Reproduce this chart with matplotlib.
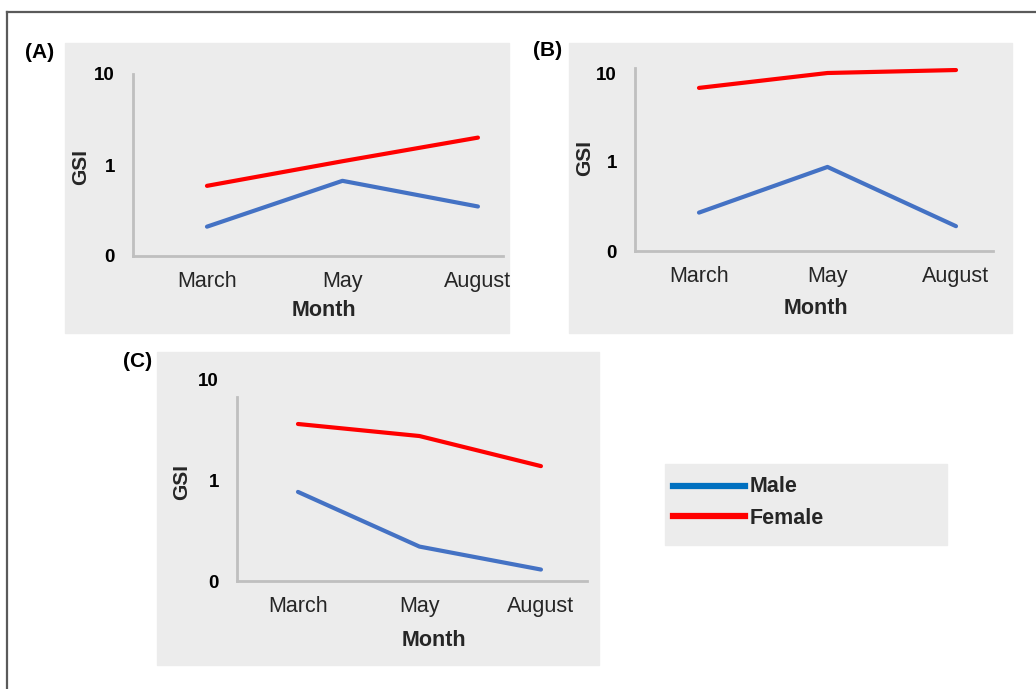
import numpy as np
import matplotlib
matplotlib.use("Agg")
import matplotlib.pyplot as plt
from matplotlib.patches import Rectangle
from matplotlib.lines import Line2D

plt.rcParams['font.family'] = ['Liberation Sans', 'DejaVu Sans']

months = ['March', 'May', 'August']
male_a = [0.21, 0.67, 0.35]
female_a = [0.59, 1.1, 2.0]
male_b = [0.27, 0.88, 0.19]
female_b = [6.8, 10.0, 10.8]
male_c = [0.77, 0.22, 0.13]
female_c = [3.65, 2.77, 1.39]
ytick_vals = [0.1, 1, 10]
ytick_labels = ['0', '1', '10']

W, H = 1036, 689
BG = '#ececec'
MALE_C = '#4472c4'
FEMALE_C = '#ff0000'

fig = plt.figure(figsize=(W / 100, H / 100), dpi=100)


def fx(x):
    return x / W


def fy(y):
    return 1 - y / H


# outer frame (top and left edges)
fig.add_artist(Line2D([fx(7), 1], [fy(12), fy(12)], color='#5a5a5a', lw=1.6))
fig.add_artist(Line2D([fx(7), fx(7)], [fy(12), 0], color='#5a5a5a', lw=1.6))


def bg(x0, y0, x1, y1):
    fig.add_artist(Rectangle((fx(x0), fy(y1)), fx(x1) - fx(x0), fy(y0) - fy(y1),
                             transform=fig.transFigure, color=BG, zorder=0))


def panel(box, xlim, ylim, spine_top, male, female, letter, gsi, month):
    left, top, right, bottom = box
    ax = fig.add_axes([fx(left), fy(bottom), fx(right) - fx(left), fy(top) - fy(bottom)])
    ax.set_facecolor('none')
    x = np.arange(len(months))
    ax.plot(x, male, color=MALE_C, lw=3, solid_capstyle='round')
    ax.plot(x, female, color=FEMALE_C, lw=3, solid_capstyle='round')
    ax.set_yscale('log')
    ax.set_ylim(*ylim)
    ax.set_xlim(*xlim)
    ax.set_yticks(ytick_vals)
    ax.set_yticklabels(ytick_labels, fontsize=13.5, fontweight='bold')
    ax.yaxis.set_minor_locator(matplotlib.ticker.NullLocator())
    ax.set_xticks(x)
    ax.set_xticklabels(months, fontsize=15.5, color='#262626')
    ax.tick_params(axis='x', length=0, pad=11)
    ax.tick_params(axis='y', length=0, pad=13)
    for s in ['top', 'right']:
        ax.spines[s].set_visible(False)
    for s in ['left', 'bottom']:
        ax.spines[s].set_color('#bfbfbf')
        ax.spines[s].set_linewidth(2)
    ax.spines['left'].set_bounds(ylim[0], spine_top)
    fig.text(fx(letter[0]), fy(letter[1]), letter[2], fontsize=15, fontweight='bold',
             ha='center', va='center')
    fig.text(fx(gsi[0]), fy(gsi[1]), 'GSI', fontsize=15, fontweight='bold',
             rotation=90, ha='center', va='center', color='#262626')
    fig.text(fx(month[0]), fy(month[1]), 'Month', fontsize=15.5, fontweight='bold',
             ha='center', va='center', color='#262626')
    return ax


# panel A
bg(65, 43, 509, 333)
panel((133, 74, 503, 256), (-0.546, 2.185), (0.1, 10), 10,
      male_a, female_a, (40, 52, '(A)'), (81, 167), (324, 311))

# panel B
bg(569, 43, 1012, 333)
panel((635, 68, 993, 251), (-0.498, 2.288), (0.1, 10 ** (1 + 5 / 89)), 10 ** (1 + 5 / 89),
      male_b, female_b, (548, 50, '(B)'), (585, 158), (816, 308))

# panel C
bg(157, 352, 599, 665)
panel((237, 380, 587, 581), (-0.502, 2.379), (0.1, 10), 10 ** (1 - 17 / 100.5),
      male_c, female_c, (138, 362, '(C)'), (182, 482), (434, 641))

# legend
bg(665, 464, 947, 545)
fig.add_artist(Line2D([fx(673), fx(745)], [fy(486), fy(486)], color='#0070c0', lw=4.5))
fig.add_artist(Line2D([fx(673), fx(745)], [fy(516), fy(516)], color=FEMALE_C, lw=4.5))
fig.text(fx(750), fy(487), 'Male', fontsize=15.5, fontweight='bold', va='center', color='#262626')
fig.text(fx(750), fy(518), 'Female', fontsize=15.5, fontweight='bold', va='center', color='#262626')

fig.savefig('out.png', dpi=100, facecolor='white')
